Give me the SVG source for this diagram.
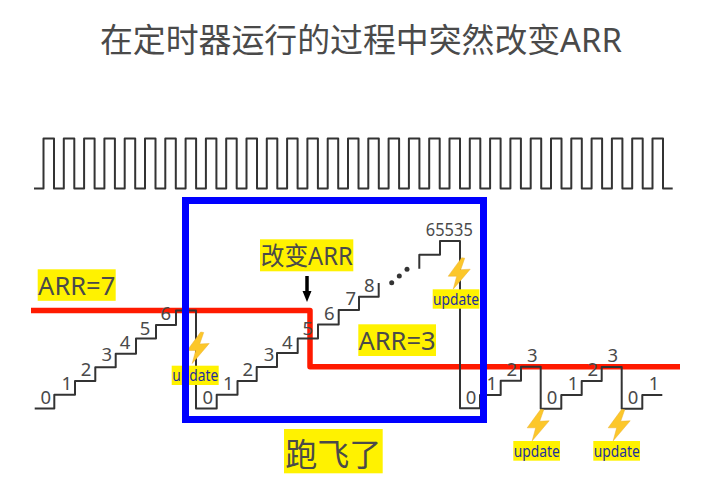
<svg xmlns="http://www.w3.org/2000/svg" width="702" height="480" viewBox="0 0 702 480">
<style>
text{font-family:"Noto Sans","Noto Sans CJK SC",sans-serif;fill:#4a4a4a}
.sig{fill:none;stroke:#333;stroke-width:2;stroke-linejoin:round}
.n{font-size:18.500px;text-anchor:middle}
.big{font-size:25.500px;text-anchor:middle}
.y{fill:#fff200}
.u{font-size:15.500px;text-anchor:middle;fill:#1f2f9c}
.bolt{fill:#fcc72a;stroke:#eab030;stroke-width:.5}
</style>
<defs>
<path id="b" class="bolt" d="M0 0L-13.500 18.500L-5 18.500L-8.500 31.500L8.500 11.500L-1 12L3 .5Z"/>
</defs>
<rect width="702" height="480" fill="#fff"/>
<text x="361" y="51.500" text-anchor="middle" textLength="522" lengthAdjust="spacingAndGlyphs" style="font-size:33px">在定时器运行的过程中突然改变ARR</text>
<g id="connectors">
<path class="sig" d="M34 188.500H43.500V138.500H54V188.500H63.800V138.500H74.300V188.500H84.100V138.500H94.600V188.500H104.400V138.500H114.900V188.500H124.700V138.500H135.200V188.500H145V138.500H155.500V188.500H165.300V138.500H175.800V188.500H185.600V138.500H196.100V188.500H205.900V138.500H216.400V188.500H226.200V138.500H236.700V188.500H246.500V138.500H257V188.500H266.800V138.500H277.300V188.500H287.100V138.500H297.600V188.500H307.400V138.500H317.900V188.500H327.700V138.500H338.200V188.500H348V138.500H358.500V188.500H368.300V138.500H378.800V188.500H388.600V138.500H399.100V188.500H408.900V138.500H419.400V188.500H429.200V138.500H439.700V188.500H449.500V138.500H460V188.500H469.800V138.500H480.300V188.500H490.100V138.500H500.600V188.500H510.400V138.500H520.900V188.500H530.700V138.500H541.200V188.500H551V138.500H561.500V188.500H571.300V138.500H581.800V188.500H591.600V138.500H602.100V188.500H611.900V138.500H622.400V188.500H632.200V138.500H642.700V188.500H652.500V138.500H663V188.500H672.700"/>
<path d="M31 310.500H310V366.800H680" fill="none" stroke="#ff1a00" stroke-width="5.500" stroke-linejoin="round"/>
<path class="sig" d="M34.700 408.500H54.300V394.700H75V381H95.300V367.200H115.700V353.700H136V338.500H156V325H176V310.500H196V408.500H216.700V394.700H237.500V381H256.700V367H277V353H297.700V338.500H318V324.500H338.700V310H359V296.700H378.700V283"/>
<path class="sig" d="M419.300 268.700V254.700H440V241H460V408.300H480V395H500.700V380.700H521V366.700H540.700V408.700H561.300V395H581.700V381H601.700V367H621.700V408.700H642.300V395H662.300"/>
<path d="M307 276V293" stroke="#000" stroke-width="3.500" fill="none"/>
<path d="M302.500 291H311.500L307 302Z" fill="#000"/>
</g>
<g id="dots" fill="#333"><circle cx="391.700" cy="282.700" r="2.500"/><circle cx="399.300" cy="276" r="2.500"/><circle cx="407" cy="269.300" r="2.500"/></g>
<g id="counts">
<text class="n" x="45.700" y="404">0</text><text class="n" x="66.700" y="390">1</text><text class="n" x="86" y="375.500">2</text><text class="n" x="106.700" y="361">3</text><text class="n" x="125" y="348.500">4</text><text class="n" x="145" y="335">5</text><text class="n" x="165.700" y="320">6</text>
<text class="n" x="207.700" y="404">0</text><text class="n" x="228.300" y="389.500">1</text><text class="n" x="247.700" y="375.500">2</text><text class="n" x="269" y="360.700">3</text><text class="n" x="287.300" y="348.500">4</text><text class="n" x="307.700" y="335">5</text><text class="n" x="329.300" y="320">6</text><text class="n" x="350.700" y="305">7</text><text class="n" x="369.300" y="291.700">8</text>
<text class="n" x="449.300" y="236" textLength="47" lengthAdjust="spacingAndGlyphs">65535</text>
<text class="n" x="471" y="404">0</text><text class="n" x="491.700" y="390">1</text><text class="n" x="511.700" y="375.700">2</text><text class="n" x="532.300" y="361.700">3</text>
<text class="n" x="552" y="404">0</text><text class="n" x="573" y="390">1</text><text class="n" x="592.700" y="376">2</text><text class="n" x="612.700" y="362">3</text>
<text class="n" x="633" y="404">0</text><text class="n" x="654" y="390">1</text>
</g>
<g id="arr7"><rect class="y" x="37.700" y="269.300" width="78" height="31.500"/><text class="big" x="76.700" y="295">ARR=7</text></g>
<g id="arr3"><rect class="y" x="358.300" y="324.300" width="77.700" height="31.700"/><text class="big" x="397" y="350">ARR=3</text></g>
<g id="change"><rect class="y" x="260" y="239.300" width="93.300" height="32"/><text class="big" x="306.700" y="264.500" textLength="92" lengthAdjust="spacingAndGlyphs">改变ARR</text></g>
<g id="update1"><use href="#b" x="200.700" y="332"/><rect class="y" x="171.700" y="365.700" width="47" height="19.300"/><text class="u" x="195.200" y="381" textLength="46" lengthAdjust="spacingAndGlyphs">update</text></g>
<g id="update2"><use href="#b" x="461.700" y="257.700"/><rect class="y" x="432.700" y="289.300" width="46.700" height="19.400"/><text class="u" x="456" y="304.500" textLength="46" lengthAdjust="spacingAndGlyphs">update</text></g>
<g id="update3"><use href="#b" x="540.700" y="409.300"/><rect class="y" x="513.300" y="441" width="46.700" height="19.700"/><text class="u" x="536.700" y="456.500" textLength="46" lengthAdjust="spacingAndGlyphs">update</text></g>
<g id="update4"><use href="#b" x="621.700" y="409.300"/><rect class="y" x="593.300" y="441" width="46.700" height="19.700"/><text class="u" x="616.700" y="456.500" textLength="46" lengthAdjust="spacingAndGlyphs">update</text></g>
<rect id="frame" x="185.500" y="200.500" width="298" height="219" fill="none" stroke="#0000ff" stroke-width="7"/>
<g id="flew"><rect class="y" x="284" y="429" width="98.700" height="44.300"/><text x="333.300" y="466" text-anchor="middle" style="font-size:32px">跑飞了</text></g>
</svg>
